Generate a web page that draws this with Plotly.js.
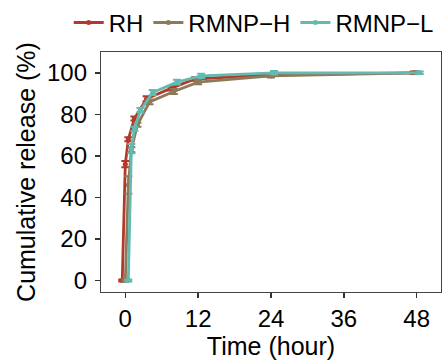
<!DOCTYPE html>
<html>
<head>
<meta charset="utf-8">
<script src="https://cdn.plot.ly/plotly-3.0.1.min.js"></script>
<style>html,body{margin:0;padding:0;background:#fff;}#chart{width:446px;height:360px;}</style>
</head>
<body>
<div id="chart"></div>
<script>
const timeHours = [0, 0.5, 1, 2, 4, 8, 12, 24, 48];
const seriesNames = ["RH", "RMNP\u2212H", "RMNP\u2212L"];
const rhValues = [0, 56, 68, 78, 87.5, 92.5, 97, 99, 100];
const rhErrors = [0.5, 1.5, 1.0, 1.0, 1.2, 1.0, 0.8, 0.8, 0.6];
const rmnpHValues = [0, 46, 63, 75, 86, 91, 95.5, 98.5, 100];
const rmnpHErrors = [0.5, 4.2, 1.2, 1.0, 1.2, 1.2, 1.0, 0.8, 0.6];
const rmnpLValues = [0, 63.5, 73, 82, 90.5, 95.5, 98.5, 100, 100];
const rmnpLErrors = [0.5, 2.2, 1.0, 1.0, 1.2, 1.2, 1.0, 0.8, 0.6];
const xTickValues = [0, 12, 24, 36, 48];
const yTickValues = [0, 20, 40, 60, 80, 100];

const colors = ["#b23a2c", "#8c7a5a", "#63bab0"];
const dodge = [-0.5, 0, 0.5];
const valueSets = [rhValues, rmnpHValues, rmnpLValues];
const errorSets = [rhErrors, rmnpHErrors, rmnpLErrors];

const traces = seriesNames.map((name, i) => ({
  type: "scatter",
  mode: "lines+markers",
  name: name,
  x: timeHours.map(t => t + dodge[i]),
  y: valueSets[i],
  line: {color: colors[i], width: 2.8},
  marker: {color: colors[i], size: 5},
  error_y: {type: "data", array: errorSets[i], visible: true, color: colors[i], thickness: 2, width: 4}
}));

const layout = {
  width: 446, height: 360,
  margin: {l: 101, r: 5, t: 52, b: 68, autoexpand: false},
  paper_bgcolor: "#fff", plot_bgcolor: "#fff",
  font: {family: "Liberation Sans, Arial, sans-serif", size: 24, color: "#000"},
  showlegend: true,
  legend: {orientation: "h", x: -0.095, xanchor: "left", y: 1.215, yanchor: "top",
           font: {size: 24}, itemwidth: 30, tracegroupgap: 0, bgcolor: "rgba(0,0,0,0)"},
  xaxis: {
    range: [-4, 52], tickvals: xTickValues, ticktext: xTickValues.map(String),
    ticks: "outside", ticklen: 5, tickwidth: 1.5, tickcolor: "#333",
    showline: true, mirror: true, linecolor: "#444", linewidth: 1.2,
    showgrid: false, zeroline: false, tickfont: {size: 24}, automargin: false,
    title: {text: "Time (hour)", font: {size: 25}, standoff: 0}
  },
  yaxis: {
    range: [-5.5, 110], tickvals: yTickValues, ticktext: yTickValues.map(String),
    ticks: "outside", ticklen: 5, tickwidth: 1.5, tickcolor: "#333",
    showline: true, mirror: true, linecolor: "#444", linewidth: 1.2,
    showgrid: false, zeroline: false, tickfont: {size: 24}, automargin: false,
    ticklabelstandoff: 3,
    title: {text: "Cumulative release (%)", font: {size: 25}, standoff: 4}
  }
};

Plotly.newPlot("chart", traces, layout, {displayModeBar: false, staticPlot: true});
</script>
</body>
</html>
